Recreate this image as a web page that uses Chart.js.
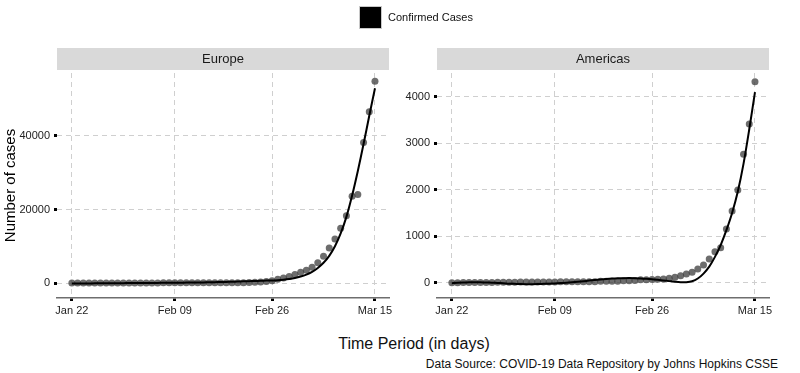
<!DOCTYPE html>
<html>
<head>
<meta charset="utf-8">
<script src="https://cdn.jsdelivr.net/npm/chart.js@4.4.1/dist/chart.umd.min.js"></script>
<style>
  body { margin: 0; width: 800px; height: 373px; background: #fff; position: relative; overflow: hidden;
         font-family: 'Liberation Sans', Arial, sans-serif; color: #111; }
  .panel { position: absolute; top: 0; width: 400px; height: 330px; }
  #legend { position: absolute; left: 359px; top: 5px; height: 24px; display: flex; align-items: center; font-size: 11px; }
  #legend .key { width: 21px; height: 21px; background: #000; border: 1px solid #c8c8c8; margin-right: 6px; }
  #xTitle { position: absolute; left: 0; width: 828px; top: 335px; text-align: center; font-size: 16px; }
  #caption { position: absolute; right: 22px; top: 357px; font-size: 12px; }
</style>
</head>
<body>
<div class="panel" style="left:0"><canvas id="europeChart" width="400" height="330"></canvas></div>
<div class="panel" style="left:400px"><canvas id="americasChart" width="400" height="330"></canvas></div>
<div id="legend"><span class="key"></span><span>Confirmed Cases</span></div>
<div id="xTitle">Time Period (in days)</div>
<div id="caption">Data Source: COVID-19 Data Repository by Johns Hopkins CSSE</div>
<script>
// days since Jan 22 (index = day), ticks on the x axis
const tickDays = [0, 18, 35, 53];
const tickLabels = ['Jan 22', 'Feb 09', 'Feb 26', 'Mar 15'];

const europeTicks = [0, 20000, 40000];
const americasTicks = [0, 1000, 2000, 3000, 4000];

// confirmed cases, one value per day Jan 22 .. Mar 15
const europeCases = [0, 0, 2, 3, 3, 4, 7, 8, 8, 16,
  22, 24, 25, 29, 30, 33, 37, 38, 38, 40,
  40, 42, 42, 45, 45, 45, 45, 45, 45, 46,
  65, 110, 210, 270, 380, 600, 1000, 1350, 1800, 2300,
  2900, 3500, 4300, 5500, 7300, 9500, 12000, 14900, 18300, 23600,
  24100, 38200, 46600, 54900];

const americasCases = [1, 1, 2, 2, 5, 6, 6, 6, 8, 10,
  12, 12, 15, 15, 16, 16, 16, 16, 16, 19,
  19, 20, 22, 22, 22, 22, 32, 32, 32, 33,
  44, 44, 45, 62, 64, 71, 75, 80, 95, 116,
  151, 187, 224, 295, 381, 510, 667, 753, 1155, 1542,
  1994, 2761, 3413, 4323];

// fitted trend line
const europeFit = [-150, -140, -130, -115, -100, -90, -75, -60, -50, -35,
  -20, -10, 0, 10, 20, 35, 45, 60, 75, 90,
  105, 125, 145, 170, 200, 230, 265, 300, 345, 395,
  450, 500, 550, 600, 650, 700, 780, 900, 1080, 1350,
  1750, 2300, 3050, 4100, 5500, 7400, 10000, 13500, 18000, 23800,
  30500, 37800, 45500, 53000];

const americasFit = [-10, 0, 5, 8, 10, 8, 5, 0, -5, -12,
  -20, -25, -30, -32, -32, -30, -25, -20, -15, -8,
  0, 10, 20, 32, 45, 58, 70, 80, 88, 94,
  98, 100, 98, 93, 85, 75, 62, 48, 34, 20,
  10, 10, 30, 90, 195, 345, 555, 810, 1130, 1500,
  1960, 2560, 3300, 4100];

Chart.defaults.font.family = "'Liberation Sans', Arial, sans-serif";
Chart.defaults.color = '#222';

const stripPlugin = {
  id: 'strip',
  beforeDraw(chart, args, opts) {
    const {ctx, chartArea} = chart;
    ctx.save();
    ctx.fillStyle = '#d9d9d9';
    ctx.fillRect(chartArea.left, chartArea.top - 25, chartArea.right - chartArea.left, 22);
    ctx.fillStyle = '#1a1a1a';
    ctx.font = "13px 'Liberation Sans', Arial, sans-serif";
    ctx.textAlign = 'center';
    ctx.textBaseline = 'middle';
    ctx.fillText(opts.text, (chartArea.left + chartArea.right) / 2, chartArea.top - 14);
    ctx.restore();
  }
};

function makePanel(canvasId, name, cases, fit, yTicks, yMin, yMax, yWidth, padRight, showTitle) {
  return new Chart(document.getElementById(canvasId), {
    type: 'scatter',
    data: {
      datasets: [
        {
          label: 'Fit',
          data: fit.map((v, i) => ({x: i, y: v})),
          showLine: true,
          borderColor: '#000',
          borderWidth: 2,
          pointRadius: 0,
          tension: 0.3
        },
        {
          label: 'Confirmed Cases',
          data: cases.map((v, i) => ({x: i, y: v})),
          backgroundColor: 'rgba(60,60,60,0.75)',
          borderWidth: 0,
          pointRadius: 3.5
        }
      ]
    },
    options: {
      responsive: false,
      animation: false,
      events: [],
      layout: { padding: { top: 73, right: padRight, left: 0, bottom: 0 } },
      plugins: {
        legend: { display: false },
        tooltip: { enabled: false },
        strip: { text: name }
      },
      scales: {
        x: {
          type: 'linear',
          min: -2.6,
          max: 55.45,
          afterBuildTicks: s => { s.ticks = tickDays.map(v => ({value: v})); },
          afterFit: s => { s.height = 32; },
          ticks: {
            font: { size: 11 },
            padding: 3,
            callback: v => tickLabels[tickDays.indexOf(v)]
          },
          grid: { color: '#cfcfcf', lineWidth: 1, tickLength: 3, tickWidth: 3, tickColor: '#000' },
          border: { display: true, color: '#6e6e6e', width: 1.5, dash: [5, 4] }
        },
        y: {
          min: yMin,
          max: yMax,
          afterBuildTicks: s => { s.ticks = yTicks.map(v => ({value: v})); },
          afterFit: s => { s.width = yWidth; },
          ticks: {
            font: { size: 11 },
            padding: 4,
            callback: v => String(v)
          },
          title: {
            display: showTitle,
            text: 'Number of cases',
            color: '#000',
            font: { size: 15 },
            padding: { top: 2, bottom: 0 }
          },
          grid: { color: '#cfcfcf', lineWidth: 1, tickLength: 3, tickWidth: 3, tickColor: '#000' },
          border: { display: false, dash: [5, 4] }
        }
      }
    },
    plugins: [stripPlugin]
  });
}

makePanel('europeChart', 'Europe', europeCases, europeFit, europeTicks, -4080, 57140, 57, 11, true);
makePanel('americasChart', 'Americas', americasCases, americasFit, americasTicks, -329, 4510, 37, 31, false);
</script>
</body>
</html>
